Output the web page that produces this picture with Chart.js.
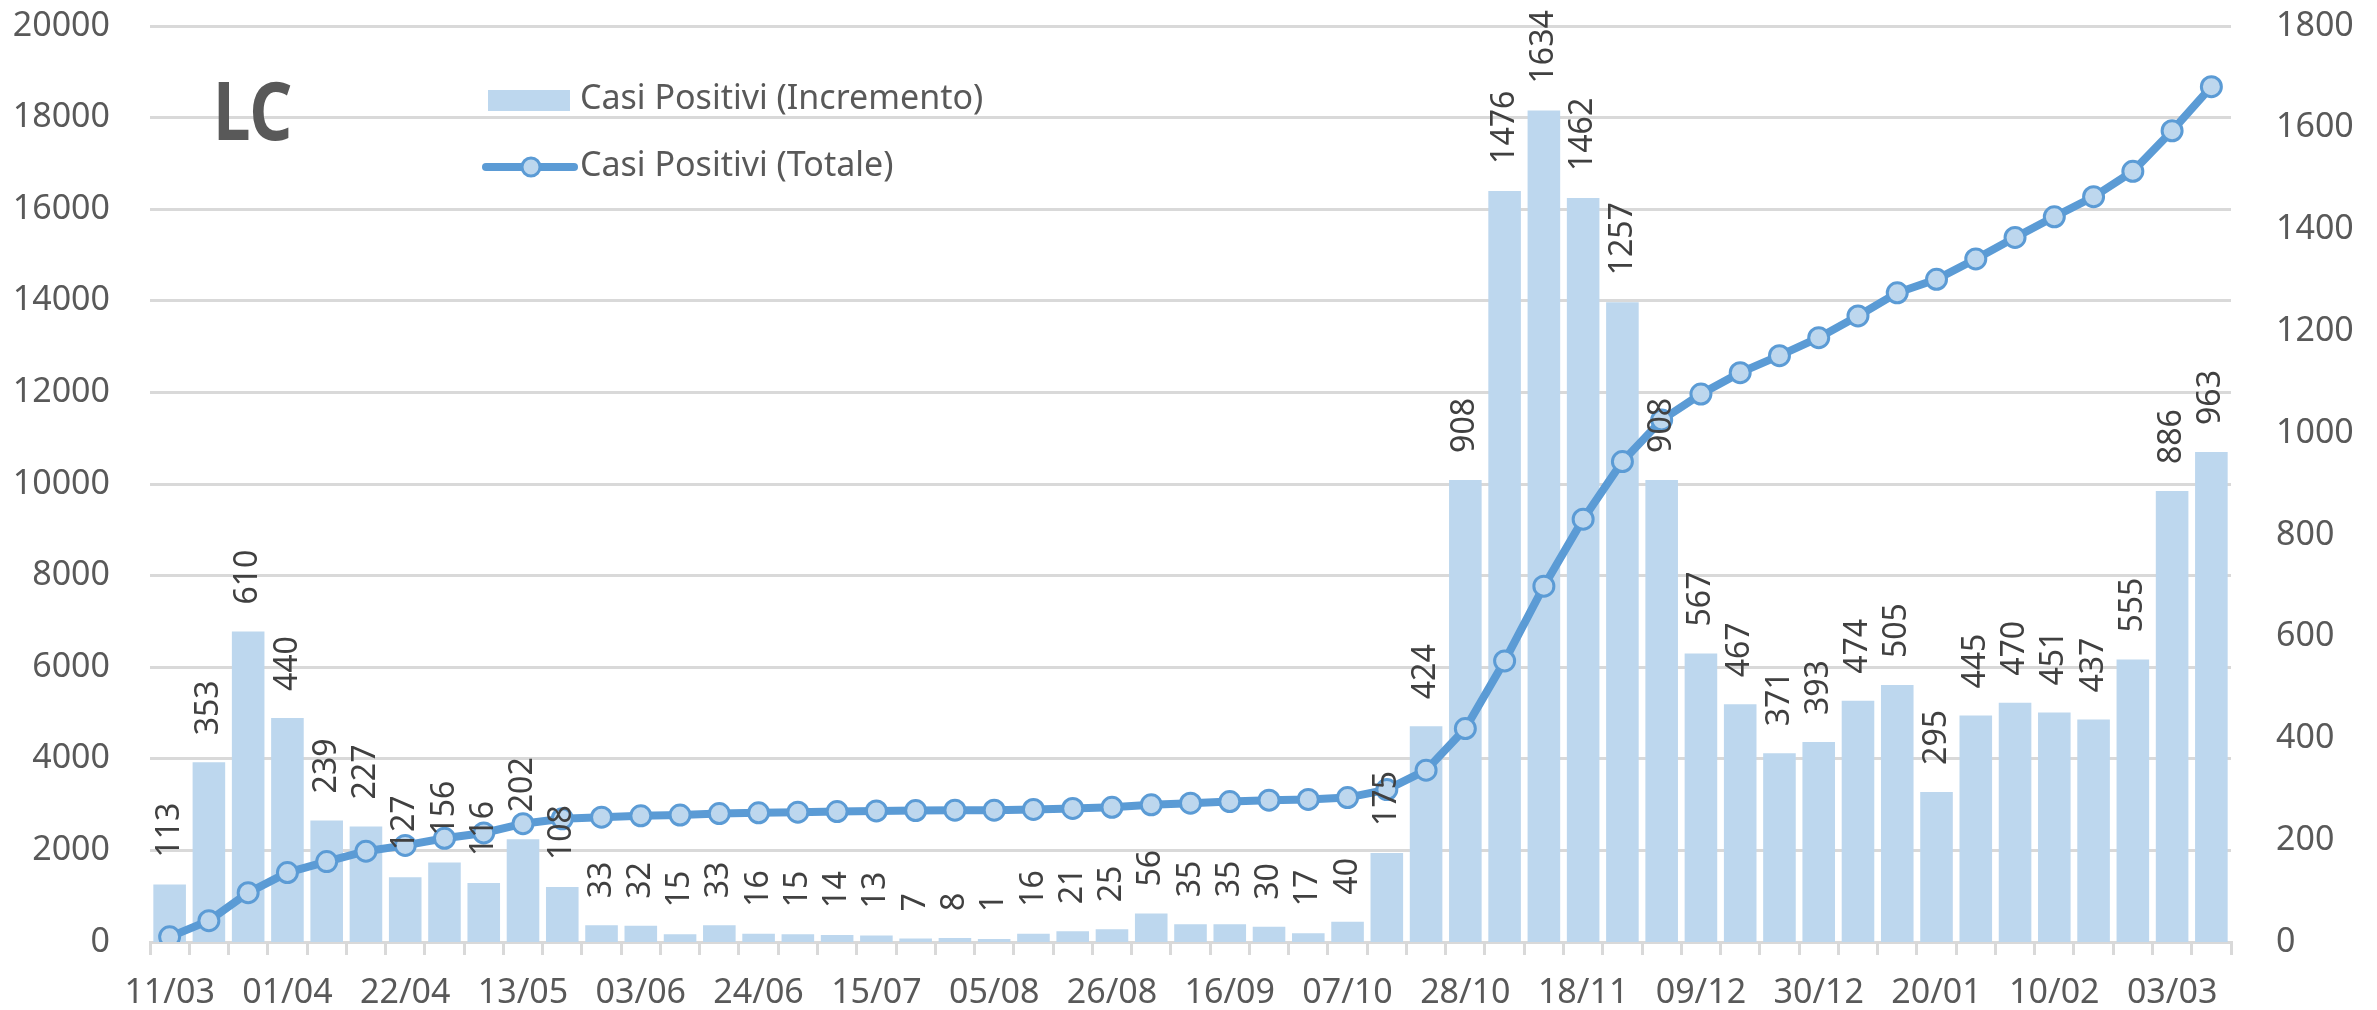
<!DOCTYPE html>
<html>
<head>
    <title>LC - Casi Positivi</title>
    <script src="https://cdn.jsdelivr.net/npm/chart.js"></script>
    <style>
        html, body { margin: 0; padding: 0; background: #ffffff; }
        #chart { display: block; }
    </style>
</head>
<body>
    <canvas id="chart" width="2377" height="1010"></canvas>

    <script>
        const weeks = ['11/03', '18/03', '25/03', '01/04', '08/04', '15/04', '22/04', '29/04', '06/05', '13/05',
            '20/05', '27/05', '03/06', '10/06', '17/06', '24/06', '01/07', '08/07', '15/07', '22/07',
            '29/07', '05/08', '12/08', '19/08', '26/08', '02/09', '09/09', '16/09', '23/09', '30/09',
            '07/10', '14/10', '21/10', '28/10', '04/11', '11/11', '18/11', '25/11', '02/12', '09/12',
            '16/12', '23/12', '30/12', '06/01', '13/01', '20/01', '27/01', '03/02', '10/02', '17/02',
            '24/02', '03/03', '10/03'];

        const incremento = [113, 353, 610, 440, 239, 227, 127, 156, 116, 202,
            108, 33, 32, 15, 33, 16, 15, 14, 13, 7,
            8, 1, 16, 21, 25, 56, 35, 35, 30, 17,
            40, 175, 424, 908, 1476, 1634, 1462, 1257, 908, 567,
            467, 371, 393, 474, 505, 295, 445, 470, 451, 437,
            555, 886, 963];

        const totale = [113, 466, 1076, 1516, 1755, 1982, 2109, 2265, 2381, 2583,
            2691, 2724, 2756, 2771, 2804, 2820, 2835, 2849, 2862, 2869,
            2877, 2878, 2894, 2915, 2940, 2996, 3031, 3066, 3096, 3113,
            3153, 3328, 3752, 4660, 6136, 7770, 9232, 10489, 11397, 11964,
            12431, 12802, 13195, 13669, 14174, 14469, 14914, 15384, 15835, 16272,
            16827, 17713, 18676];

        const title = 'LC';
        const FONT = '"Noto Sans", "DejaVu Sans", sans-serif';
        const grey = '#595959';
        const barFill = '#bdd7ee';
        const lineBlue = '#5b9bd5';

        // rotated value labels above each bar
        const barLabels = {
            id: 'barLabels',
            afterDatasetsDraw(chart) {
                const ctx = chart.ctx;
                const meta = chart.getDatasetMeta(1);
                ctx.save();
                ctx.fillStyle = '#404040';
                ctx.font = '32px ' + FONT;
                ctx.textAlign = 'left';
                ctx.textBaseline = 'middle';
                meta.data.forEach((bar, i) => {
                    ctx.save();
                    ctx.translate(bar.x, bar.y - 27);
                    ctx.rotate(-Math.PI / 2);
                    ctx.fillText(String(chart.data.datasets[1].data[i]), 0, 0);
                    ctx.restore();
                });
                ctx.restore();
            }
        };

        // title and legend drawn inside the plot, like the Excel original
        const overlay = {
            id: 'overlay',
            afterDraw(chart) {
                const ctx = chart.ctx;
                const ds = chart.data.datasets;
                ctx.save();
                ctx.fillStyle = grey;
                ctx.font = 'bold 80px ' + FONT;
                ctx.textBaseline = 'alphabetic';
                ctx.save();
                ctx.translate(213, 140);
                ctx.scale(0.84, 1); // Calibri-like narrow bold
                ctx.fillText(title, 0, 0);
                ctx.restore();

                // bar entry
                ctx.fillStyle = ds[1].backgroundColor;
                ctx.fillRect(488, 90, 82, 21);
                // line entry
                ctx.strokeStyle = ds[0].borderColor;
                ctx.lineWidth = 8;
                ctx.lineCap = 'round';
                ctx.beginPath();
                ctx.moveTo(486, 167);
                ctx.lineTo(574, 167);
                ctx.stroke();
                ctx.beginPath();
                ctx.arc(531, 167, 9, 0, Math.PI * 2);
                ctx.fillStyle = ds[0].pointBackgroundColor;
                ctx.fill();
                ctx.lineWidth = 3;
                ctx.stroke();

                ctx.fillStyle = grey;
                ctx.font = '34px ' + FONT;
                ctx.textBaseline = 'middle';
                ctx.fillText(ds[1].label, 580, 99);
                ctx.fillText(ds[0].label, 580, 166);
                ctx.restore();
            }
        };

        // keep tick padding from pushing the plot down
        const trimPad = s => { s.paddingTop = 20; s.paddingBottom = 20; };

        new Chart(document.getElementById('chart').getContext('2d'), {
            data: {
                labels: weeks,
                datasets: [{
                    type: 'line',
                    label: 'Casi Positivi (Totale)',
                    data: totale,
                    yAxisID: 'y',
                    order: 0,
                    borderColor: lineBlue,
                    borderWidth: 8,
                    tension: 0,
                    pointRadius: 10,
                    pointBorderWidth: 3,
                    pointBorderColor: lineBlue,
                    pointBackgroundColor: barFill
                }, {
                    type: 'bar',
                    label: 'Casi Positivi (Incremento)',
                    data: incremento,
                    yAxisID: 'y1',
                    order: 1,
                    backgroundColor: barFill,
                    categoryPercentage: 1,
                    barPercentage: 0.83,
                    minBarLength: 3
                }]
            },
            options: {
                responsive: false,
                devicePixelRatio: 1,
                animation: false,
                layout: { padding: { top: 26, left: 0, right: 0, bottom: 0 } },
                plugins: {
                    legend: { display: false },
                    tooltip: { enabled: false }
                },
                scales: {
                    x: {
                        offset: true,
                        grid: {
                            offset: true,
                            drawOnChartArea: false,
                            drawTicks: true,
                            tickLength: 13,
                            color: '#d9d9d9',
                            lineWidth: 3
                        },
                        border: { display: true, color: '#d9d9d9', width: 3 },
                        ticks: {
                            autoSkip: false,
                            maxRotation: 0,
                            padding: 18,
                            color: grey,
                            font: { family: FONT, size: 34 },
                            callback: (v, i) => (i % 3 === 0 ? weeks[i] : '')
                        },
                        afterFit: s => { s.height = 68; }
                    },
                    y: {
                        position: 'left',
                        min: 0,
                        max: 20000,
                        ticks: {
                            stepSize: 2000, padding: 40, color: grey,
                            font: { family: FONT, size: 34 },
                            callback: v => String(v)
                        },
                        grid: { color: '#d9d9d9', lineWidth: 3, drawTicks: false },
                        border: { display: false },
                        afterFit: s => { s.width = 150; trimPad(s); }
                    },
                    y1: {
                        position: 'right',
                        min: 0,
                        max: 1800,
                        ticks: {
                            stepSize: 200, padding: 37, color: grey,
                            font: { family: FONT, size: 34 },
                            callback: v => String(v)
                        },
                        grid: { display: false, drawOnChartArea: false },
                        border: { display: false },
                        afterFit: s => { s.width = 146; trimPad(s); }
                    }
                }
            },
            plugins: [barLabels, overlay]
        });
    </script>
</body>
</html>
